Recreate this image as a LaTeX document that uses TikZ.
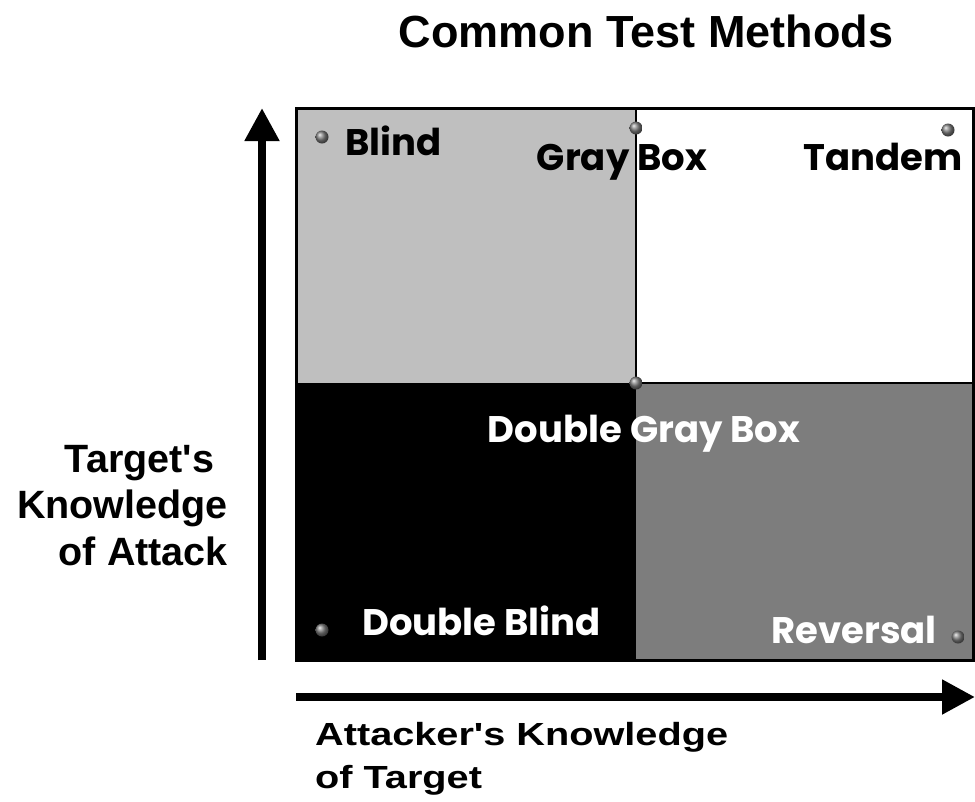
\documentclass[tikz,border=0pt]{standalone}
\usepackage{fontspec}
\setmainfont{Liberation Sans}[Ligatures=TeXOff]
\newfontfamily\geofont{Poppins}
\usetikzlibrary{arrows.meta}

\definecolor{lightquad}{gray}{0.75}
\definecolor{darkquad}{gray}{0.49}

\begin{document}
\begin{tikzpicture}[x=1pt,y=-1pt,
  titletext/.style={font=\bfseries\fontsize{45}{50}\selectfont, inner sep=0pt},
  axislabel/.style={font=\bfseries\fontsize{39.5}{46.5}\selectfont, inner sep=0pt},
  widelabel/.style={font=\bfseries\fontsize{32}{43}\selectfont, inner sep=0pt},
  quadlabel/.style={font=\geofont\bfseries\fontsize{37}{37}\selectfont, inner sep=0pt},
  marker/.style={circle, inner sep=0pt, minimum size=13pt, ball color=gray, draw=none},
  axisarrow/.style={line width=8pt, -{Triangle[length=33pt,width=33pt]}}]
\useasboundingbox (0,0) rectangle (975,801);

% quadrants
\fill[lightquad] (296,108) rectangle (636,383);
\fill[white]     (636,108) rectangle (973,383);
\fill[black]     (296,383) rectangle (636,660);
\fill[darkquad]  (636,383) rectangle (973,660);
\draw[line width=2pt] (636,108) -- (636,383) -- (973,383);
\draw[line width=3pt] (296,108) rectangle (973,660);

% axes
\coordinate (ybot) at (262,660);
\coordinate (ytop) at (262,108);
\coordinate (xleft) at (296,697);
\coordinate (xright) at (975,697);
\draw[axisarrow] (ybot) -- (ytop);
\draw[axisarrow] (xleft) -- (xright);

% title
\node[titletext, anchor=base] (title) at (646,47) {Common Test Methods};

% axis labels (anchored on the baseline of the last line)
\node[axislabel, anchor=base east, align=right] (ylabel) at (228,565)
  {Target's\hspace*{0.35em}\\Knowledge\\of Attack};
\node[widelabel, anchor=base west, align=left] (xlabel) at (315,788)
  {\scalebox{1.24}[1]{Attacker's Knowledge}\\\scalebox{1.24}[1]{of Target}};

% markers
\node[marker] (mblind)  at (322,137) {};
\node[marker] (mgray)   at (636,128) {};
\node[marker] (mtandem) at (948,130) {};
\node[marker] (mdgray)  at (636,383) {};
\node[marker] (mdblind) at (322,630) {};
\node[marker] (mrev)    at (958,637) {};

% quadrant labels
\node[quadlabel, anchor=base west] (blind) at (345,155) {Blind};
\node[quadlabel, anchor=base] (graybox) at (622,170) {Gray Box};
\node[quadlabel, anchor=base east] (tandem) at (963,170) {Tandem};
\node[quadlabel, anchor=base, text=white] (dgraybox) at (644,442) {Double Gray Box};
\node[quadlabel, anchor=base west, text=white] (dblind) at (362,635) {Double Blind};
\node[quadlabel, anchor=base east, text=white] (reversal) at (937,643) {Reversal};
\end{tikzpicture}
\end{document}
